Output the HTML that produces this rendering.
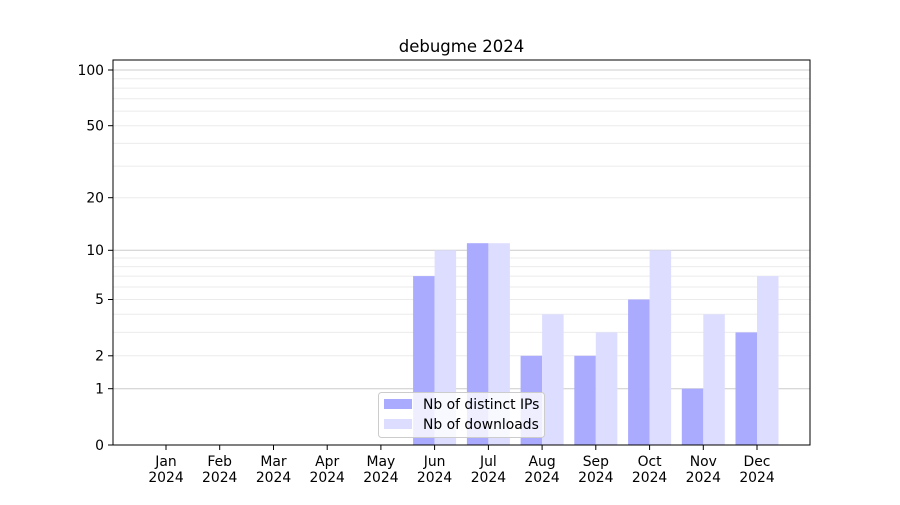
<!DOCTYPE html>
<html><head><meta charset="utf-8"><style>
html,body{margin:0;padding:0;background:#fff}
text{font-family:"DejaVu Sans","Liberation Sans",sans-serif;font-size:13.9px;fill:#000}
</style></head><body>
<svg width="900" height="500" xmlns="http://www.w3.org/2000/svg">
<rect width="900" height="500" fill="#fff"/>
<g stroke="#ebebeb" stroke-width="1">
<line x1="113" x2="810" y1="355.8" y2="355.8"/>
<line x1="113" x2="810" y1="332.4" y2="332.4"/>
<line x1="113" x2="810" y1="314.3" y2="314.3"/>
<line x1="113" x2="810" y1="299.5" y2="299.5"/>
<line x1="113" x2="810" y1="287" y2="287"/>
<line x1="113" x2="810" y1="276.1" y2="276.1"/>
<line x1="113" x2="810" y1="266.6" y2="266.6"/>
<line x1="113" x2="810" y1="258" y2="258"/>
<line x1="113" x2="810" y1="197.7" y2="197.7"/>
<line x1="113" x2="810" y1="166.1" y2="166.1"/>
<line x1="113" x2="810" y1="143.4" y2="143.4"/>
<line x1="113" x2="810" y1="125.7" y2="125.7"/>
<line x1="113" x2="810" y1="111.1" y2="111.1"/>
<line x1="113" x2="810" y1="98.8" y2="98.8"/>
<line x1="113" x2="810" y1="88.1" y2="88.1"/>
<line x1="113" x2="810" y1="78.7" y2="78.7"/>
</g>
<g stroke="#cccccc" stroke-width="1">
<line x1="113" x2="810" y1="388.7" y2="388.7"/>
<line x1="113" x2="810" y1="250.3" y2="250.3"/>
<line x1="113" x2="810" y1="70" y2="70"/>
</g>
<g fill="#aaaaff">
<rect x="413.1" y="276.1" width="21.5" height="168.9"/>
<rect x="466.9" y="243.2" width="21.5" height="201.8"/>
<rect x="520.6" y="355.8" width="21.5" height="89.2"/>
<rect x="574.3" y="355.8" width="21.5" height="89.2"/>
<rect x="628.1" y="299.5" width="21.5" height="145.5"/>
<rect x="681.8" y="388.7" width="21.5" height="56.3"/>
<rect x="735.5" y="332.4" width="21.5" height="112.6"/>
</g>
<g fill="#ddddff">
<rect x="434.6" y="250.3" width="21.5" height="194.7"/>
<rect x="488.4" y="243.2" width="21.5" height="201.8"/>
<rect x="542.1" y="314.3" width="21.5" height="130.7"/>
<rect x="595.8" y="332.4" width="21.5" height="112.6"/>
<rect x="649.6" y="250.3" width="21.5" height="194.7"/>
<rect x="703.3" y="314.3" width="21.5" height="130.7"/>
<rect x="757" y="276.1" width="21.5" height="168.9"/>
</g>
<rect x="113" y="60" width="697" height="385" fill="none" stroke="#000" stroke-width="1"/>
<g stroke="#000">
<line x1="108" x2="113" y1="445" y2="445"/><line x1="108" x2="113" y1="388.7" y2="388.7"/>
<line x1="108" x2="113" y1="355.8" y2="355.8"/><line x1="108" x2="113" y1="299.5" y2="299.5"/>
<line x1="108" x2="113" y1="250.3" y2="250.3"/><line x1="108" x2="113" y1="197.7" y2="197.7"/>
<line x1="108" x2="113" y1="125.7" y2="125.7"/><line x1="108" x2="113" y1="70" y2="70"/>
</g>
<g text-anchor="end">
<text x="104" y="450">0</text><text x="104" y="393.5">1</text><text x="104" y="360.5">2</text>
<text x="104" y="304">5</text><text x="104" y="255">10</text><text x="104" y="202.5">20</text>
<text x="104" y="130.5">50</text><text x="104" y="75">100</text>
</g>
<g stroke="#000">
<line x1="166" x2="166" y1="445" y2="450"/><line x1="219.7" x2="219.7" y1="445" y2="450"/>
<line x1="273.5" x2="273.5" y1="445" y2="450"/><line x1="327.2" x2="327.2" y1="445" y2="450"/>
<line x1="380.9" x2="380.9" y1="445" y2="450"/><line x1="434.6" x2="434.6" y1="445" y2="450"/>
<line x1="488.4" x2="488.4" y1="445" y2="450"/><line x1="542.1" x2="542.1" y1="445" y2="450"/>
<line x1="595.8" x2="595.8" y1="445" y2="450"/><line x1="649.6" x2="649.6" y1="445" y2="450"/>
<line x1="703.3" x2="703.3" y1="445" y2="450"/><line x1="757" x2="757" y1="445" y2="450"/>
</g>
<g text-anchor="middle">
<text x="166" y="466">Jan</text><text x="166" y="482">2024</text>
<text x="219.7" y="466">Feb</text><text x="219.7" y="482">2024</text>
<text x="273.5" y="466">Mar</text><text x="273.5" y="482">2024</text>
<text x="327.2" y="466">Apr</text><text x="327.2" y="482">2024</text>
<text x="380.9" y="466">May</text><text x="380.9" y="482">2024</text>
<text x="434.6" y="466">Jun</text><text x="434.6" y="482">2024</text>
<text x="488.4" y="466">Jul</text><text x="488.4" y="482">2024</text>
<text x="542.1" y="466">Aug</text><text x="542.1" y="482">2024</text>
<text x="595.8" y="466">Sep</text><text x="595.8" y="482">2024</text>
<text x="649.6" y="466">Oct</text><text x="649.6" y="482">2024</text>
<text x="703.3" y="466">Nov</text><text x="703.3" y="482">2024</text>
<text x="757" y="466">Dec</text><text x="757" y="482">2024</text>
<text x="461.5" y="52" style="font-size:16.5px">debugme 2024</text>
</g>
<rect x="378.5" y="392.5" width="166" height="45" rx="3" fill="#fff" fill-opacity="0.8" stroke="#cccccc"/>
<rect x="384" y="399" width="28" height="10" fill="#aaaaff"/>
<rect x="384" y="419" width="28" height="10" fill="#ddddff"/>
<text x="423" y="409">Nb of distinct IPs</text>
<text x="423" y="429">Nb of downloads</text>
</svg>
</body></html>
